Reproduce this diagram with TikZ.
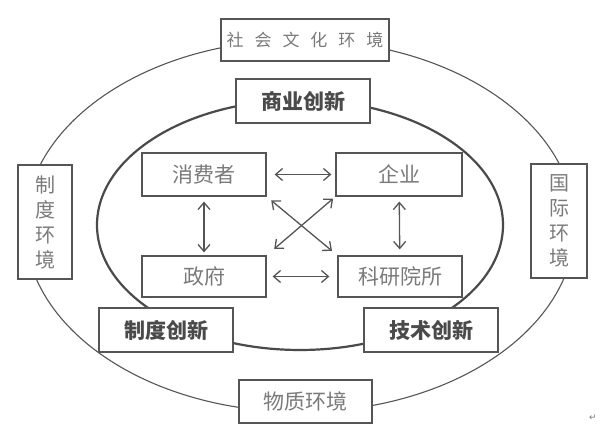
\documentclass[tikz,border=0pt]{standalone}
\usepackage{fontspec}
\usepackage{xcolor}
\usepackage{tikz}
\usetikzlibrary{arrows.meta}
\newfontfamily\cjk{Noto Sans CJK SC}
\newfontfamily\symfont{DejaVu Sans}
\definecolor{linegray}{HTML}{555555}
\definecolor{textgray}{HTML}{7A7A7A}
\definecolor{boldgray}{HTML}{4A4A4A}
\tikzset{
	box/.style={
		draw=linegray,
		line width=1.2pt,
		fill=white,
		inner sep=0pt,
		align=center,
		text=textgray,
		font=\cjk\fontsize{21}{25}\selectfont
	},
	innobox/.style={
		box,
		text=boldgray,
		font=\cjk\bfseries\fontsize{21}{25}\selectfont
	},
	link/.style={
		draw=linegray,
		line width=1.3pt,
		>={Straight Barb[length=7pt,width=12pt]},
		<->
	}
}

\begin{document}
\begin{tikzpicture}[x=1pt, y=1pt]
\useasboundingbox (0,0) rectangle (600,443);
% the two rings
\draw[draw=linegray, line width=1.1pt] (300,217) ellipse [x radius=275, y radius=186];
\draw[draw=boldgray, line width=2.2pt] (300,218) ellipse [x radius=203, y radius=125];
% environment boxes
\node[box, minimum width=168, minimum height=42, font=\cjk\fontsize{17}{20}\selectfont] (social) at (305,403)
	{社\hspace{11pt}会\hspace{11pt}文\hspace{11pt}化\hspace{11pt}环\hspace{11pt}境};
\node[box, minimum width=54, minimum height=114, font=\cjk\fontsize{20}{25}\selectfont] (inst) at (45,221) {制\\度\\环\\境};
\node[box, minimum width=56, minimum height=114, font=\cjk\fontsize{20}{25}\selectfont] (intl) at (559,222) {国\\际\\环\\境};
\node[box, minimum width=133, minimum height=43] (material) at (305.5,41.5) {物质环境};
% innovation boxes
\node[innobox, minimum width=134, minimum height=44] (business) at (303,342) {商业创新};
\node[innobox, minimum width=134, minimum height=44] (policy) at (166,113) {制度创新};
\node[innobox, minimum width=134, minimum height=44] (tech) at (431,113) {技术创新};
% actors
\node[box, minimum width=124, minimum height=43] (consumer) at (204,268.5) {消费者};
\node[box, minimum width=126, minimum height=43] (firm) at (399,268.5) {企业};
\node[box, minimum width=124, minimum height=41] (gov) at (204,166.5) {政府};
\node[box, minimum width=124, minimum height=41] (lab) at (400,166.5) {科研院所};
% links
\draw[link, shorten <=8pt, shorten >=4pt] (consumer) -- (firm);
\draw[link, shorten <=6pt, shorten >=8pt] (gov) -- (lab);
\draw[link, shorten <=5pt, shorten >=3pt] (consumer) -- (gov);
\draw[link, shorten <=5pt, shorten >=6pt] (firm) -- (lab);
\draw[link, shorten <=6pt, shorten >=7pt] (consumer.south east) -- (lab.north west);
\draw[link, shorten <=3pt, shorten >=10pt] (firm.south west) -- (gov.north east);
% paragraph mark
\node[text=textgray, font=\symfont\fontsize{9}{9}\selectfont, inner sep=0pt] (mark) at (593,25) {↵};
\end{tikzpicture}
\end{document}
